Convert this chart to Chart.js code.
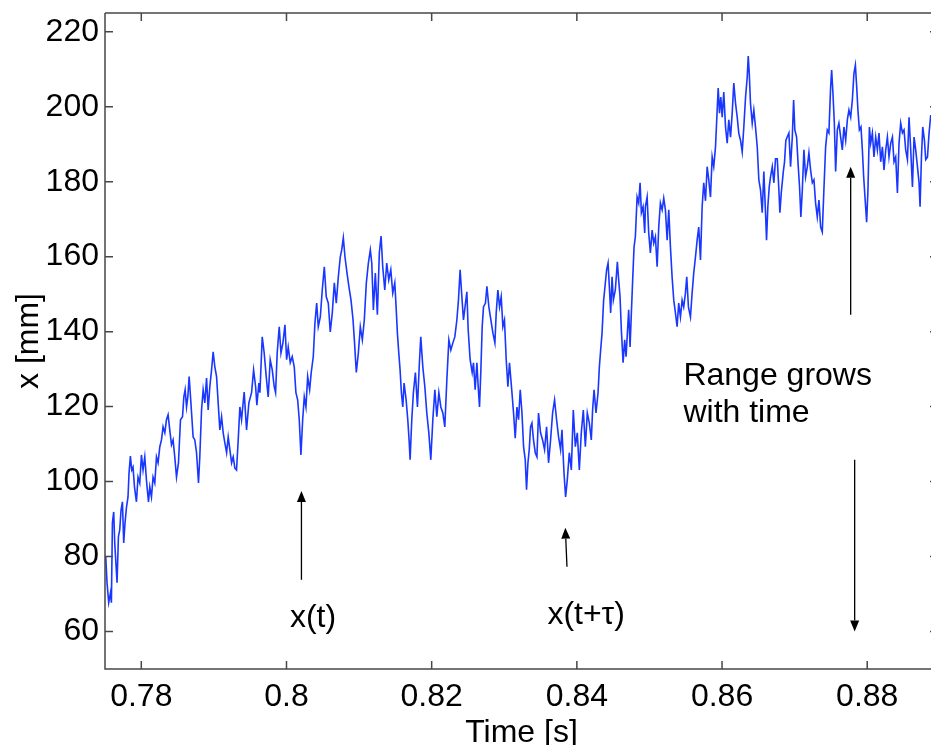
<!DOCTYPE html>
<html><head><meta charset="utf-8">
<script src="https://cdn.jsdelivr.net/npm/chart.js@4.4.0/dist/chart.umd.min.js"></script>
<style>
html,body{margin:0;padding:0;background:#fff;overflow:hidden;width:931px;height:745px}
#wrap{position:absolute;left:0;top:0;width:938px;height:745px}
</style>
</head><body><div id="wrap"><canvas id="c" width="938" height="745"></canvas></div>
<script>
// ---- data ----
const timeS = [
0.77510,0.77528,0.77551,0.77575,0.77588,0.77602,0.77620,0.77634,0.77666,0.77685,0.77703,0.77721,0.77740,0.77758,0.77776,0.77795,0.77817,0.77831,0.77850,0.77868,0.77886,0.77906,0.77933,0.77955,0.77979,
0.78002,0.78024,0.78048,0.78071,0.78099,0.78117,0.78140,0.78162,0.78186,0.78209,0.78231,0.78255,0.78278,0.78300,0.78324,0.78347,0.78369,0.78392,0.78416,0.78438,0.78461,0.78485,0.78512,0.78540,0.78568,
0.78586,0.78604,0.78623,0.78641,0.78659,0.78678,0.78696,0.78714,0.78737,0.78761,0.78788,0.78806,0.78830,0.78852,0.78875,0.78899,0.78921,0.78944,0.78968,0.78990,0.79013,0.79037,0.79059,0.79082,0.79106,
0.79128,0.79151,0.79175,0.79197,0.79220,0.79244,0.79266,0.79289,0.79312,0.79335,0.79358,0.79381,0.79417,0.79450,0.79482,0.79519,0.79547,0.79575,0.79592,0.79620,0.79634,0.79666,0.79693,0.79721,0.79748,
0.79776,0.79804,0.79831,0.79850,0.79872,0.79900,0.79924,0.79951,0.79979,0.80002,0.80024,0.80052,0.80079,0.80107,0.80130,0.80154,0.80176,0.80199,0.80223,0.80245,0.80268,0.80292,0.80319,0.80341,0.80369,
0.80392,0.80416,0.80438,0.80466,0.80493,0.80521,0.80548,0.80576,0.80603,0.80631,0.80659,0.80686,0.80714,0.80741,0.80761,0.80783,0.80806,0.80834,0.80861,0.80889,0.80917,0.80935,0.80962,0.80990,0.81017,
0.81045,0.81072,0.81100,0.81128,0.81155,0.81175,0.81197,0.81224,0.81252,0.81279,0.81303,0.81326,0.81354,0.81381,0.81409,0.81437,0.81464,0.81492,0.81510,0.81528,0.81547,0.81565,0.81583,0.81602,0.81620,
0.81648,0.81671,0.81689,0.81703,0.81726,0.81748,0.81776,0.81804,0.81831,0.81850,0.81878,0.81906,0.81933,0.81961,0.81988,0.82016,0.82044,0.82071,0.82099,0.82126,0.82154,0.82181,0.82209,0.82237,0.82264,
0.82292,0.82319,0.82347,0.82369,0.82392,0.82416,0.82438,0.82466,0.82485,0.82503,0.82530,0.82558,0.82576,0.82599,0.82623,0.82641,0.82659,0.82678,0.82696,0.82714,0.82741,0.82761,0.82788,0.82816,0.82844,
0.82871,0.82889,0.82912,0.82935,0.82958,0.82981,0.83003,0.83027,0.83050,0.83072,0.83106,0.83128,0.83151,0.83175,0.83197,0.83220,0.83244,0.83266,0.83289,0.83307,0.83326,0.83344,0.83362,0.83381,0.83403,
0.83427,0.83450,0.83472,0.83500,0.83528,0.83555,0.83583,0.83610,0.83638,0.83666,0.83693,0.83721,0.83748,0.83776,0.83795,0.83823,0.83845,0.83868,0.83896,0.83924,0.83951,0.83979,0.84006,0.84034,0.84061,
0.84089,0.84117,0.84144,0.84172,0.84199,0.84217,0.84237,0.84264,0.84292,0.84310,0.84328,0.84347,0.84369,0.84383,0.84410,0.84430,0.84448,0.84466,0.84485,0.84503,0.84530,0.84558,0.84576,0.84595,0.84613,
0.84637,0.84659,0.84678,0.84696,0.84714,0.84733,0.84751,0.84769,0.84788,0.84806,0.84830,0.84852,0.84871,0.84889,0.84912,0.84935,0.84944,0.84968,0.84990,0.85013,0.85037,0.85059,0.85082,0.85106,0.85128,
0.85151,0.85175,0.85197,0.85220,0.85244,0.85266,0.85289,0.85312,0.85335,0.85358,0.85381,0.85403,0.85427,0.85450,0.85472,0.85496,0.85514,0.85537,0.85565,0.85588,0.85610,0.85634,0.85657,0.85679,0.85703,
0.85726,0.85748,0.85772,0.85795,0.85817,0.85841,0.85864,0.85886,0.85910,0.85933,0.85947,0.85965,0.85983,0.86002,0.86024,0.86048,0.86071,0.86093,0.86117,0.86140,0.86162,0.86186,0.86209,0.86231,0.86255,
0.86278,0.86300,0.86324,0.86347,0.86361,0.86375,0.86392,0.86416,0.86438,0.86461,0.86485,0.86507,0.86530,0.86554,0.86576,0.86599,0.86613,0.86631,0.86650,0.86668,0.86692,0.86714,0.86737,0.86761,0.86783,
0.86797,0.86816,0.86844,0.86861,0.86879,0.86899,0.86921,0.86944,0.86968,0.86986,0.87003,0.87027,0.87050,0.87068,0.87086,0.87106,0.87128,0.87151,0.87175,0.87197,0.87220,0.87244,0.87266,0.87289,0.87312,
0.87335,0.87358,0.87381,0.87403,0.87427,0.87450,0.87472,0.87496,0.87510,0.87528,0.87547,0.87565,0.87588,0.87610,0.87634,0.87657,0.87679,0.87703,0.87726,0.87748,0.87772,0.87795,0.87817,0.87837,0.87855,
0.87872,0.87892,0.87914,0.87933,0.87951,0.87969,0.87992,0.88010,0.88030,0.88048,0.88071,0.88093,0.88117,0.88140,0.88162,0.88186,0.88209,0.88231,0.88255,0.88278,0.88300,0.88324,0.88347,0.88369,0.88392,
0.88416,0.88438,0.88461,0.88485,0.88507,0.88530,0.88554,0.88576,0.88599,0.88623,0.88645,0.88668,0.88692,0.88714,0.88728,0.88747,0.88765,0.88788,0.88806,0.88830,0.88852,0.88875
];
const xMm = [
80.0,73.0,67.7,70.3,67.7,89.0,91.9,83.6,73.0,85.3,87.1,92.4,94.6,83.6,89.0,93.0,95.9,102.3,106.8,103.1,103.9,98.6,94.6,101.2,99.6,
107.1,103.1,106.6,100.4,94.6,98.6,95.9,101.2,99.6,106.6,105.0,109.3,111.1,114.6,113.0,116.5,117.8,113.8,109.8,111.1,106.6,101.2,105.0,116.5,117.3,
122.6,124.5,119.9,122.6,128.0,122.6,117.3,111.9,111.1,107.7,99.6,106.6,119.1,124.5,121.0,127.6,119.1,125.3,129.8,134.6,130.6,128.0,121.0,113.8,117.3,
113.0,110.3,107.7,111.9,108.5,105.0,106.6,103.6,103.1,111.1,119.9,116.5,123.9,113.8,121.0,123.7,129.8,125.3,120.4,126.3,123.7,138.6,134.3,128.0,122.6,
132.5,129.8,125.3,123.7,134.3,141.3,134.3,137.0,141.8,132.5,135.9,131.7,133.3,130.6,123.7,121.8,116.5,107.1,116.5,122.6,119.9,128.0,124.5,129.1,133.3,
142.3,147.6,141.3,143.9,151.1,157.3,149.3,147.6,139.9,145.0,153.0,147.6,154.6,159.9,161.8,165.0,159.9,155.6,151.9,148.4,143.1,137.8,129.1,134.3,141.3,
137.8,143.1,153.0,158.3,161.8,158.3,145.8,155.6,144.5,161.0,165.5,157.3,151.1,158.3,153.8,156.5,150.3,153.0,146.6,139.6,134.3,129.8,123.7,119.9,126.3,
121.8,116.5,111.1,105.8,116.5,123.7,129.1,119.9,131.7,138.6,130.6,125.3,118.3,113.0,105.8,116.5,124.5,117.3,123.7,119.9,118.3,114.6,127.1,137.8,135.1,
137.0,138.6,143.1,148.4,156.5,149.3,143.1,147.6,150.6,140.5,132.5,129.1,131.7,124.5,131.7,125.3,119.9,129.8,141.3,146.6,147.6,152.1,146.6,143.1,139.6,
137.0,145.0,151.1,146.6,149.3,141.3,143.1,132.5,125.3,131.7,123.7,118.3,111.6,119.9,116.5,124.5,118.3,109.3,105.8,97.8,105.0,108.5,114.6,115.6,111.1,
107.7,106.6,118.3,113.0,111.1,108.5,114.6,105.0,111.1,118.3,121.8,116.5,111.9,108.5,113.8,102.3,95.9,100.4,107.7,103.1,119.1,109.3,113.0,103.1,113.0,
119.1,109.3,118.3,115.6,111.1,119.1,124.5,118.3,123.7,130.6,135.1,139.6,148.4,151.1,156.5,158.3,151.9,145.0,154.6,148.4,151.1,158.6,153.8,149.3,140.5,
131.7,137.8,133.3,139.6,145.8,135.9,145.0,153.8,162.6,165.3,175.9,174.3,179.7,171.7,173.3,166.3,173.3,175.9,166.3,161.0,167.1,163.6,165.3,157.3,167.9,
174.3,172.5,175.6,172.5,164.4,172.5,162.6,154.6,148.4,145.0,141.3,147.6,143.9,148.4,146.6,150.3,154.6,146.6,143.9,150.3,155.6,159.9,164.4,167.9,159.1,
173.3,179.7,174.9,184.0,180.5,175.9,186.6,184.0,189.3,199.1,205.0,198.3,202.6,197.2,203.9,194.6,190.3,196.5,191.9,198.3,206.3,200.9,197.2,192.9,191.0,
187.9,194.6,202.6,207.9,213.5,208.9,200.9,195.6,199.1,194.6,189.3,180.5,177.8,171.7,182.7,171.7,164.4,173.3,178.6,181.3,184.0,179.7,186.1,186.1,177.8,
171.7,177.0,182.7,185.3,191.0,192.0,193.0,184.0,191.9,201.8,193.8,191.9,184.0,178.6,170.6,177.8,188.5,181.3,184.0,187.7,183.1,179.7,180.5,174.3,170.6,
175.1,167.9,166.6,177.8,189.3,193.8,193.0,205.3,209.8,203.6,195.6,182.7,193.8,195.6,191.9,188.5,194.6,191.0,196.5,199.1,197.2,201.8,208.9,211.1,205.3,
199.1,193.8,194.6,188.5,181.3,175.9,169.2,177.8,194.6,190.3,193.0,186.6,191.9,188.5,193.0,185.3,189.3,183.1,188.5,191.9,186.6,190.3,191.9,185.3,186.6,
177.0,190.3,195.6,193.0,193.8,188.5,185.9,197.2,188.5,178.6,191.9,188.5,184.0,179.7,173.3,186.6,194.6,191.0,185.9,186.6,193.0,197.8
];
const xTickValues = [0.78, 0.80, 0.82, 0.84, 0.86, 0.88];
const yTickValues = [60, 80, 100, 120, 140, 160, 180, 200, 220];
const xLimits = [0.775, 0.88975];
const yLimits = [50, 225];

// annotations, in data units
const arrowFrom = [[0.80206, 73.8], [0.83864, 77.3], [0.87827, 105.8], [0.87772, 144.5]];
const arrowTo   = [[0.80206, 97.5], [0.83841, 87.7], [0.87827, 60.0], [0.87772, 184.0]];
const noteTexts = ['x(t)', 'x(t+\u03C4)', 'Range grows', 'with time'];
const notePos   = [[0.80365, 61.1], [0.84128, 62.0], [0.85468, 125.8], [0.85468, 115.9]];
const noteAlign = ['center', 'center', 'left', 'left'];

const FONT = '"Liberation Sans", Arial, Helvetica, sans-serif';
const AXIS = '#474747';

const points = timeS.map((t, i) => ({x: t, y: xMm[i]}));

const framePlugin = {
  id: 'frame',
  afterDraw(chart) {
    const {ctx, chartArea: a, scales: {x, y}} = chart;
    ctx.save();
    ctx.strokeStyle = AXIS;
    ctx.lineWidth = 1.5;
    ctx.beginPath();
    ctx.moveTo(a.left, a.top); ctx.lineTo(a.right, a.top);
    ctx.lineTo(a.right, a.bottom); ctx.lineTo(a.left, a.bottom); ctx.lineTo(a.left, a.top);
    xTickValues.forEach(v => {
      const p = x.getPixelForValue(v);
      ctx.moveTo(p, a.bottom); ctx.lineTo(p, a.bottom - 8);
      ctx.moveTo(p, a.top); ctx.lineTo(p, a.top + 8);
    });
    yTickValues.forEach(v => {
      const p = y.getPixelForValue(v);
      ctx.moveTo(a.left, p); ctx.lineTo(a.left + 8, p);
      ctx.moveTo(a.right, p); ctx.lineTo(a.right - 8, p);
    });
    ctx.stroke();

    // arrows
    ctx.strokeStyle = '#000'; ctx.fillStyle = '#000'; ctx.lineWidth = 1.3;
    arrowFrom.forEach((f, i) => {
      const x0 = x.getPixelForValue(f[0]), y0 = y.getPixelForValue(f[1]);
      const x1 = x.getPixelForValue(arrowTo[i][0]), y1 = y.getPixelForValue(arrowTo[i][1]);
      const ang = Math.atan2(y1 - y0, x1 - x0);
      const L = 11, W = 4.5;
      const bx = x1 - L * Math.cos(ang), by = y1 - L * Math.sin(ang);
      ctx.beginPath(); ctx.moveTo(x0, y0); ctx.lineTo(bx, by); ctx.stroke();
      ctx.beginPath();
      ctx.moveTo(x1, y1);
      ctx.lineTo(bx + W * Math.sin(ang), by - W * Math.cos(ang));
      ctx.lineTo(bx - W * Math.sin(ang), by + W * Math.cos(ang));
      ctx.closePath(); ctx.fill();
    });

    ctx.font = '32px ' + FONT;
    ctx.textBaseline = 'alphabetic';
    noteTexts.forEach((s, i) => {
      ctx.textAlign = noteAlign[i];
      ctx.fillText(s, x.getPixelForValue(notePos[i][0]), y.getPixelForValue(notePos[i][1]));
    });
    ctx.restore();
  }
};

new Chart(document.getElementById('c'), {
  type: 'scatter',
  data: {
    datasets: [{
      data: points,
      showLine: true,
      borderColor: 'rgb(25,55,255)',
      borderWidth: 1.6,
      pointRadius: 0,
      tension: 0
    }]
  },
  options: {
    responsive: false,
    animation: false,
    devicePixelRatio: 1,
    layout: {padding: {top: 13, left: 0, right: 0, bottom: 0}},
    plugins: {legend: {display: false}, tooltip: {enabled: false}},
    scales: {
      x: {
        type: 'linear', position: 'bottom',
        min: xLimits[0], max: xLimits[1],
        grid: {display: false, drawTicks: false},
        border: {display: false},
        afterBuildTicks: s => { s.ticks = xTickValues.map(v => ({value: v})); },
        afterFit: s => { s.height = 76; s.paddingLeft = 0; s.paddingRight = 0; },
        ticks: {
          autoSkip: false, maxRotation: 0, padding: 9, color: '#000',
          font: {family: FONT, size: 32},
          callback: v => String(Number(v.toFixed(2)))
        },
        title: {display: true, text: 'Time [s]', color: '#000', font: {family: FONT, size: 32}, padding: {top: 0, bottom: -7}}
      },
      y: {
        type: 'linear', position: 'left',
        min: yLimits[0], max: yLimits[1],
        grid: {display: false, drawTicks: false},
        border: {display: false},
        afterBuildTicks: s => { s.ticks = yTickValues.map(v => ({value: v})); },
        afterFit: s => { s.width = 105; s.paddingTop = 0; s.paddingBottom = 0; },
        ticks: {autoSkip: false, padding: 6, color: '#000', font: {family: FONT, size: 32}},
        title: {display: true, text: 'x [mm]', color: '#000', font: {family: FONT, size: 32}, padding: {top: 10, bottom: 0}}
      }
    }
  },
  plugins: [framePlugin]
});
</script>
</body></html>
